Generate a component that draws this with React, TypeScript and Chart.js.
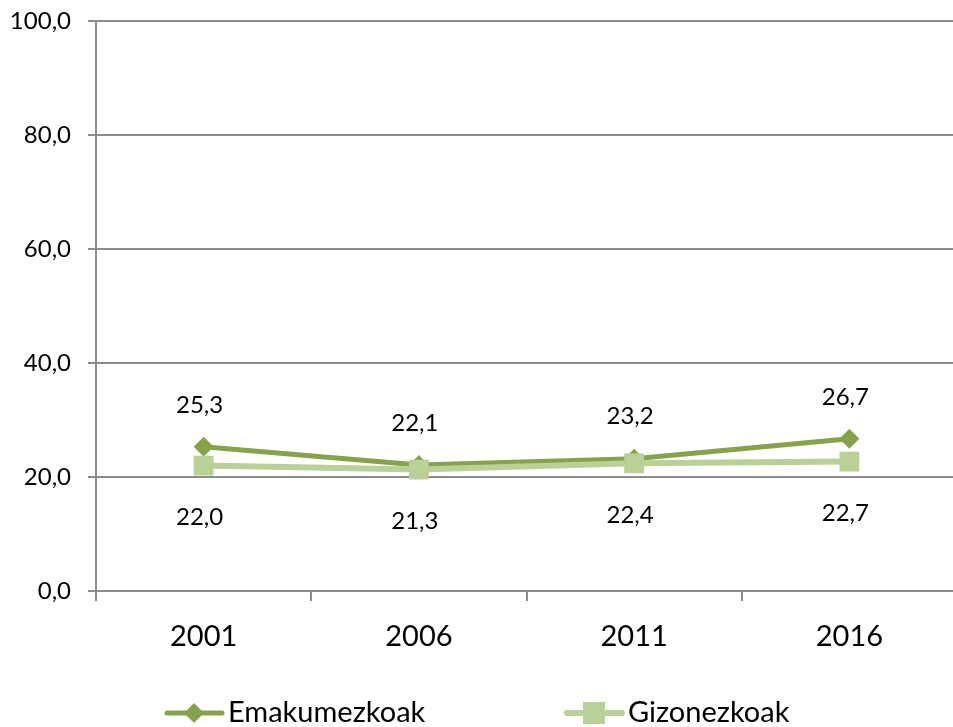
import React, { useEffect, useRef } from "react";
import { Chart, registerables } from "chart.js";

Chart.register(...registerables);

const categories = ["2001", "2006", "2011", "2016"];
const seriesNames = ["Emakumezkoak", "Gizonezkoak"];
const emakumezkoak = [25.3, 22.1, 23.2, 26.7];
const gizonezkoak = [22.0, 21.3, 22.4, 22.7];
const yTicks = [0, 20, 40, 60, 80, 100];

const DARK = "#86a34b";
const LIGHT = "#b9d097";
const GRID = "#8c8c8c";
const FONT = "Lato, 'Liberation Sans', sans-serif";

const fmt = (v: number) => v.toFixed(1).replace(".", ",");

const labelPlugin = {
  id: "valueLabels",
  afterDatasetsDraw(chart: any) {
    const ctx = chart.ctx;
    ctx.save();
    ctx.font = `24px ${FONT}`;
    ctx.fillStyle = "#000";
    ctx.textAlign = "center";
    ctx.textBaseline = "middle";
    chart.data.datasets.forEach((ds: any, i: number) => {
      const meta = chart.getDatasetMeta(i);
      const off = ds.labelAbove ? -42 : 52;
      meta.data.forEach((pt: any, j: number) => {
        ctx.fillText(fmt(ds.data[j]), pt.x - 4, pt.y + off);
      });
    });
    ctx.restore();
  },
};

const legendPlugin = {
  id: "customLegend",
  afterDraw(chart: any) {
    const ctx = chart.ctx;
    const y = 713;
    const items = [
      { name: seriesNames[0], color: DARK, x: 167, style: "diamond", lw: 5 },
      { name: seriesNames[1], color: LIGHT, x: 567, style: "square", lw: 6 },
    ];
    ctx.save();
    items.forEach((it) => {
      ctx.strokeStyle = it.color;
      ctx.lineWidth = it.lw;
      ctx.lineCap = "round";
      ctx.beginPath();
      ctx.moveTo(it.x, y);
      ctx.lineTo(it.x + 55, y);
      ctx.stroke();
      ctx.fillStyle = it.color;
      const cx = it.x + 27;
      ctx.beginPath();
      if (it.style === "diamond") {
        ctx.moveTo(cx - 10, y);
        ctx.lineTo(cx, y - 10);
        ctx.lineTo(cx + 10, y);
        ctx.lineTo(cx, y + 10);
        ctx.closePath();
      } else {
        ctx.rect(cx - 11, y - 11, 22, 22);
      }
      ctx.fill();
      ctx.fillStyle = "#000";
      ctx.font = `29px ${FONT}`;
      ctx.textAlign = "left";
      ctx.textBaseline = "middle";
      ctx.fillText(it.name, it.x + 61, y);
    });
    ctx.restore();
  },
};

export default function App() {
  const ref = useRef<HTMLCanvasElement | null>(null);
  useEffect(() => {
    if (!ref.current) return;
    const chart = new Chart(ref.current, {
      type: "line",
      data: {
        labels: categories,
        datasets: [
          {
            label: seriesNames[0],
            data: emakumezkoak,
            borderColor: DARK,
            backgroundColor: DARK,
            borderWidth: 5,
            pointStyle: "rectRot",
            pointRadius: 10,
            pointBorderWidth: 0,
            order: 1,
            labelAbove: true,
          } as any,
          {
            label: seriesNames[1],
            data: gizonezkoak,
            borderColor: LIGHT,
            backgroundColor: LIGHT,
            borderWidth: 6,
            pointStyle: "rect",
            pointRadius: 14,
            pointBorderWidth: 0,
            order: 0,
            labelAbove: false,
          } as any,
        ],
      },
      options: {
        responsive: false,
        animation: false,
        layout: { autoPadding: false, padding: { top: 21, right: 0, bottom: 56, left: 0 } },
        plugins: { legend: { display: false }, tooltip: { enabled: false } },
        scales: {
          x: {
            offset: true,
            grid: {
              offset: true,
              drawOnChartArea: false,
              drawTicks: true,
              tickLength: 10,
              color: GRID,
              lineWidth: 2,
            },
            border: { display: true, color: GRID, width: 2 },
            ticks: {
              color: "#000",
              font: { family: FONT, size: 29 },
              padding: 18,
            },
            afterFit(scale: any) {
              scale.height = 80;
              scale.paddingLeft = 0;
              scale.paddingRight = 0;
            },
          },
          y: {
            min: 0,
            max: 100,
            afterBuildTicks(scale: any) {
              scale.ticks = yTicks.map((v) => ({ value: v }));
            },
            grid: {
              color: GRID,
              lineWidth: 2,
              tickLength: 8,
            },
            border: { display: true, color: GRID, width: 2 },
            ticks: {
              color: "#000",
              font: { family: FONT, size: 24 },
              padding: 17,
              callback: (v: any) => fmt(Number(v)),
            },
            afterFit(scale: any) {
              scale.width = 96;
              scale.paddingTop = 0;
              scale.paddingBottom = 0;
            },
          },
        },
      } as any,
      plugins: [labelPlugin, legendPlugin],
    });
    return () => chart.destroy();
  }, []);
  return (
    <div
      style={{
        position: "fixed",
        left: 0,
        top: 0,
        width: 953,
        height: 727,
        overflow: "hidden",
        background: "#fff",
      }}
    >
      <canvas ref={ref} width={957} height={727} style={{ display: "block" }} />
    </div>
  );
}
